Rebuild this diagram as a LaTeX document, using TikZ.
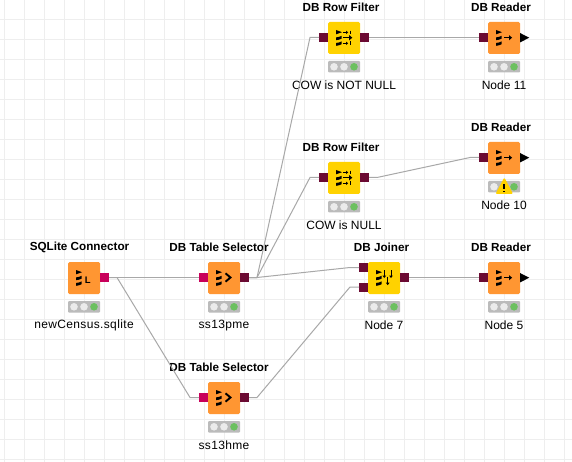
\documentclass[tikz,border=0pt]{standalone}
\usepackage{fontspec}
\setmainfont{Liberation Sans}
\usetikzlibrary{calc}
\definecolor{gridc}{HTML}{EEEEEE}
\definecolor{orangeb}{HTML}{FF9632}
\definecolor{yellowb}{HTML}{FFD200}
\definecolor{portd}{HTML}{6B0A32}
\definecolor{portp}{HTML}{C8005A}
\definecolor{wire}{HTML}{A8A8A8}
\definecolor{tl}{HTML}{BBBBBB}
\definecolor{tloff}{HTML}{EBEBEB}
\definecolor{tlg}{HTML}{6CC060}
\tikzset{
  x=1pt,y=-1pt,
  body/.style={minimum width=32pt,minimum height=32pt,inner sep=0pt,outer sep=0pt,rounded corners=1.5pt,fill=#1},
  portbox/.style={minimum width=9pt,minimum height=9pt,inner sep=0pt,outer sep=0pt,fill=#1},
  title/.style={font=\bfseries\fontsize{11.7}{12}\selectfont,inner sep=0pt,text=black},
  caption/.style={font=\fontsize{12}{12}\selectfont,inner sep=0pt,text=black},
  conn/.style={draw=wire,line width=1pt},
  glyph/.style={draw=black,line width=1.4pt},
  thin glyph/.style={draw=black,line width=0.9pt},
}
% #1 name #2 x #3 y #4 colour #5 title #6 title x-offset #7 caption
\newcommand{\knode}[7]{%
  \node[body=#4] (#1) at (#2,#3) {};
  \node[title] (#1t) at (#2+#6,#3-30.6) {#5};
  \node[caption] (#1c) at (#2,#3+47.5) {#7};
  \fill[tl,rounded corners=1pt] (#2-16,#3+23) rectangle (#2+16,#3+34.5);
  \fill[tloff] (#2-10,#3+28.8) circle (3.8);
  \fill[tloff] (#2,#3+28.8) circle (3.8);
  \fill[tlg] (#2+10,#3+28.8) circle (3.8);
  \begin{scope}[shift={(#2,#3)}]
    \fill[black] (-8,-8) -- (-2,-5.8) -- (-8,-3.7) -- cycle;
    \fill[black] (-8,-0.6) .. controls (-6,-0.8) and (-4,-1.2) .. (-2.3,-2.2) -- (-2.3,0.6) .. controls (-4,1.6) and (-6,2) .. (-8,2.2) -- cycle;
    \fill[black] (-8,5) .. controls (-6,4.8) and (-4,4.4) .. (-2.3,3.4) -- (-2.3,6.2) .. controls (-4,7.2) and (-6,7.6) .. (-8,7.8) -- cycle;
  \end{scope}
}
\newcommand{\arrowglyph}[6]{% x1 y1 x2 y2 head style
  \draw[#6] (#1,#2) -- (#3,#4);
  \fill[black] (#3+#5,#4) -- (#3-0.5,#4-#5) -- (#3-0.5,#4+#5) -- cycle;
}
\newcommand{\readerglyph}[2]{%
  \begin{scope}[shift={(#1,#2)}]
    \arrowglyph{0}{-0.3}{5.5}{-0.3}{2.6}{glyph}
  \end{scope}}
\newcommand{\selectorglyph}[2]{%
  \begin{scope}[shift={(#1,#2)}]
    \draw[black,line width=1.9pt,miter limit=4] (1.5,-4.7) -- (6.5,-0.5) -- (1.5,3.7);
  \end{scope}}
\newcommand{\filterglyph}[2]{%
  \begin{scope}[shift={(#1,#2)}]
    \arrowglyph{-1}{-0.3}{5.5}{-0.3}{2.8}{glyph}
    \arrowglyph{-1}{-5.6}{2.5}{-5.6}{1.7}{thin glyph}
    \draw[thin glyph] (6,-7.4) -- (6,-3.8);
    \arrowglyph{-1}{5.3}{2.5}{5.3}{1.7}{thin glyph}
    \draw[thin glyph] (6,3.5) -- (6,7.1);
  \end{scope}}
\newcommand{\joinerglyph}[2]{%
  \begin{scope}[shift={(#1,#2)}]
    \draw[thin glyph] (0.3,-8) -- (0.3,-2);
    \fill[black] (0.3,0) -- (-1.6,-2.5) -- (2.2,-2.5) -- cycle;
    \draw[thin glyph] (7,-8) -- (7,-2);
    \fill[black] (7,0) -- (5.1,-2.5) -- (8.9,-2.5) -- cycle;
    \draw[thin glyph] (3.7,-1.3) -- (3.7,5);
    \fill[black] (3.7,7.2) -- (1.8,4.6) -- (5.6,4.6) -- cycle;
  \end{scope}}
\begin{document}
\begin{tikzpicture}
\useasboundingbox (0,0) rectangle (572,462);
\fill[white] (0,0) rectangle (572,462);
\foreach \i in {0,...,28} \draw[gridc,line width=1pt] (4.5+20*\i,0) -- (4.5+20*\i,462);
\foreach \i in {0,...,22} \draw[gridc,line width=1pt] (0,19.5+20*\i) -- (572,19.5+20*\i);

\knode{sq}{84}{278}{orangeb}{SQLite Connector}{-4.5}{\addfontfeature{LetterSpace=3}newCensus.sqlite}
\knode{tsa}{224}{278}{orangeb}{DB Table Selector}{-5}{\addfontfeature{LetterSpace=3}ss13pme}
\knode{tsb}{224}{398}{orangeb}{DB Table Selector}{-5}{\addfontfeature{LetterSpace=3}ss13hme}
\knode{rfa}{344}{38}{yellowb}{DB Row Filter}{-3}{COW is NOT NULL}
\knode{rfb}{344}{178}{yellowb}{DB Row Filter}{-3}{COW is NULL}
\knode{jn}{384}{278}{yellowb}{DB Joiner}{-2.5}{Node 7}
\knode{ra}{504}{38}{orangeb}{DB Reader}{-3}{Node 11}
\knode{rb}{504}{158}{orangeb}{DB Reader}{-3}{Node 10}
\knode{rc}{504}{278}{orangeb}{DB Reader}{-3}{Node 5}

% body glyphs
\node[font=\bfseries\fontsize{9.5}{9.5}\selectfont,inner sep=0pt] (sqL) at (87.7,280.5) {L};
\selectorglyph{224}{278}
\selectorglyph{224}{398}
\filterglyph{344}{38}
\filterglyph{344}{178}
\joinerglyph{384}{278}
\readerglyph{504}{38}
\readerglyph{504}{158}
\readerglyph{504}{278}

% ports
\node[portbox=portp] (sqo) at (104.5,277.5) {};
\node[portbox=portp] (tsai) at (203.5,277.5) {};
\node[portbox=portd] (tsao) at (244.5,277.5) {};
\node[portbox=portp] (tsbi) at (203.5,397.5) {};
\node[portbox=portd] (tsbo) at (244.5,397.5) {};
\node[portbox=portd] (rfai) at (323.5,37.5) {};
\node[portbox=portd] (rfao) at (364.5,37.5) {};
\node[portbox=portd] (rfbi) at (323.5,177.5) {};
\node[portbox=portd] (rfbo) at (364.5,177.5) {};
\node[portbox=portd] (jni) at (363.5,267.5) {};
\node[portbox=portd] (jnj) at (363.5,287) {};
\node[portbox=portd] (jno) at (404.5,277.5) {};
\node[portbox=portd] (rai) at (483.5,37.5) {};
\node[portbox=portd] (rbi) at (483.5,157.5) {};
\node[portbox=portd] (rci) at (483.5,277.5) {};

% output triangles
\fill[black] (520,33) -- (529.3,37.7) -- (520,42.4) -- cycle;
\fill[black] (520,153) -- (529.3,157.7) -- (520,162.4) -- cycle;
\fill[black] (520,273) -- (529.3,277.7) -- (520,282.4) -- cycle;

% warning
\filldraw[fill=yellowb,draw=yellowb,line width=1.8pt,line join=round] (504.3,179.3) -- (511.6,193) -- (497,193) -- cycle;
\fill[black] (503.3,184.5) rectangle (505.3,189.5);
\fill[black] (503.3,190.7) rectangle (505.3,192.5);

% connectors
\draw[conn] (sqo.east) -- (tsai.west);
\draw[conn] (sqo.east) -- ++(8,0) -- ($(tsbi.west)+(-9,0)$) -- (tsbi.west);
\draw[conn] (tsao.east) -- ++(8,0) -- ($(rfai.west)+(-9,0)$) -- (rfai.west);
\draw[conn] (tsao.east) -- ++(8,0) -- ($(rfbi.west)+(-9,0)$) -- (rfbi.west);
\draw[conn] (tsao.east) -- ++(8,0) -- ($(jni.west)+(-9,0)$) -- (jni.west);
\draw[conn] (tsbo.east) -- ++(8,0) -- ($(jnj.west)+(-9,0)$) -- (jnj.west);
\draw[conn] (rfao.east) -- (rai.west);
\draw[conn] (rfbo.east) -- ++(8,0) -- ($(rbi.west)+(-9,0)$) -- (rbi.west);
\draw[conn] (jno.east) -- (rci.west);
\end{tikzpicture}
\end{document}
